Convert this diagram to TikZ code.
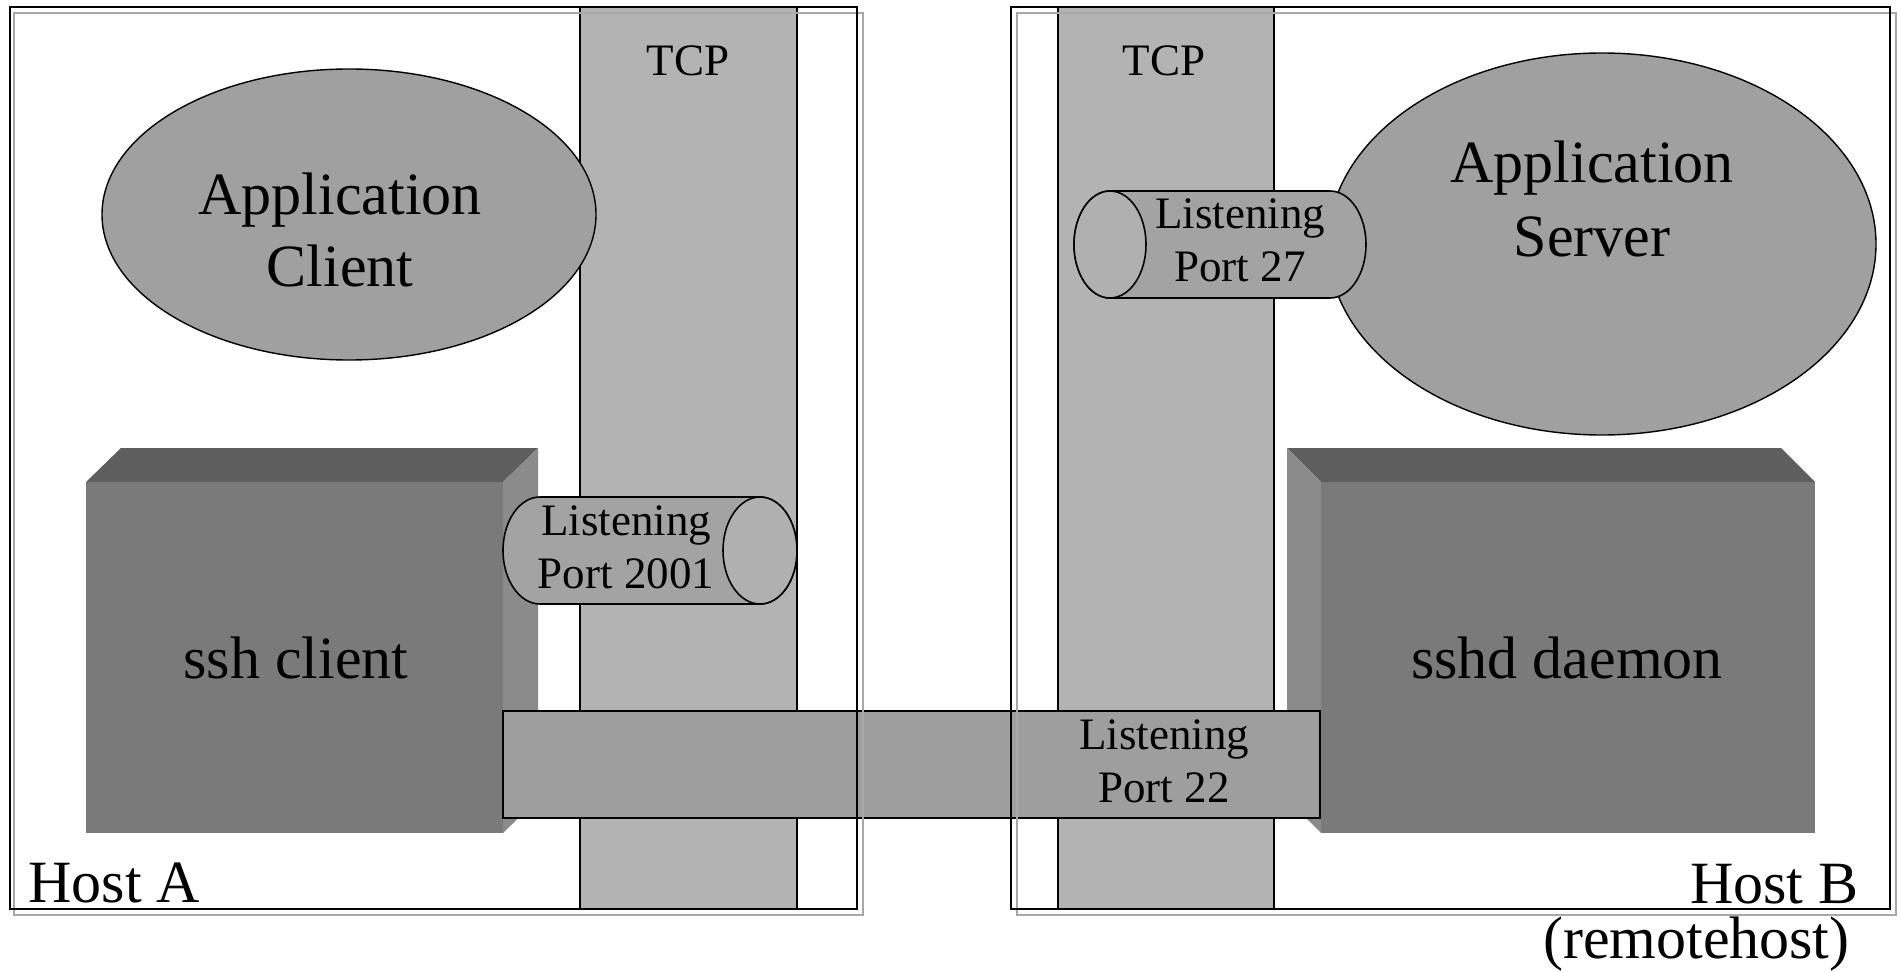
\documentclass[tikz,border=0pt]{standalone}
\usepackage{fontspec}
\setmainfont{Liberation Serif}
\usepackage{tikz}
\definecolor{tcpGray}   {HTML}{B3B3B3}
\definecolor{appGray}   {HTML}{A0A0A0}
\definecolor{portGray}  {HTML}{A3A3A3}
\definecolor{faceGray}  {HTML}{B0B0B0}
\definecolor{barGray}   {HTML}{9E9E9E}
\definecolor{boxFront}  {HTML}{7A7A7A}
\definecolor{boxTop}    {HTML}{5E5E5E}
\definecolor{boxSide}   {HTML}{8B8B8B}
\definecolor{shadowGray}{HTML}{A8A8A8}
\begin{document}
\begin{tikzpicture}[x=0.5pt,y=0.5pt,
      strip/.style={draw=black,fill=tcpGray,line width=0.6pt},
      blob/.style={draw=black,fill=appGray,line width=0.7pt},
      port/.style={draw=black,fill=portGray,line width=0.8pt},
      face/.style={draw=black,fill=faceGray,line width=0.8pt},
      frameline/.style={draw=black,line width=1pt},
      frameshadow/.style={draw=shadowGray,line width=1pt},
      big/.style={font=\fontsize{30}{36}\selectfont,align=center,anchor=base,inner sep=0pt},
      small/.style={font=\fontsize{22.5}{26.5}\selectfont,align=center,anchor=base,inner sep=0pt}]
    \useasboundingbox (0,0) rectangle (1900,971);
    % TCP layers
    \draw[strip] (580,62) rectangle (797,964);
    \draw[strip] (1058,62) rectangle (1274,964);
    \node[small] (tcpA) at (688,895) {TCP};
    \node[small] (tcpB) at (1164,895) {TCP};
    % applications
    \draw[blob] (349,756.5) ellipse [x radius=247,y radius=145.5];
    \draw[blob] (1602,727) ellipse [x radius=274,y radius=191];
    \node[big] (appc) at (340,684) {Application\\Client};
    \node[big,font=\fontsize{30}{37}\selectfont] (apps) at (1592,714) {Application\\Server};
    % ssh boxes
    \fill[boxFront] (86,138) rectangle (503,489);
    \fill[boxTop] (86,489) -- (503,489) -- (538,523) -- (121,523) -- cycle;
    \fill[boxSide] (503,489) -- (538,523) -- (538,172) -- (503,138) -- cycle;
    \fill[boxFront] (1321,138) rectangle (1815,489);
    \fill[boxTop] (1287,523) -- (1781,523) -- (1815,489) -- (1321,489) -- cycle;
    \fill[boxSide] (1287,523) -- (1321,489) -- (1321,138) -- (1287,172) -- cycle;
    \node[big] (sshc) at (296,293) {ssh client};
    \node[big] (sshd) at (1567,293) {sshd daemon};
    % listening ports
    \draw[port] (540,474) -- (760,474) arc[start angle=90,end angle=-90,x radius=37,y radius=53.5]
      -- (540,367) arc[start angle=270,end angle=90,x radius=37,y radius=53.5] -- cycle;
    \draw[face] (760,420.5) ellipse [x radius=37,y radius=53.5];
    \node[small] (p2001) at (626,383) {Listening\\Port 2001};
    \draw[port] (1110,780) -- (1330,780) arc[start angle=90,end angle=-90,x radius=36,y radius=53.5]
      -- (1110,673) arc[start angle=270,end angle=90,x radius=36,y radius=53.5] -- cycle;
    \draw[face] (1110,726.5) ellipse [x radius=36,y radius=53.5];
    \node[small] (p27) at (1240,689) {Listening\\Port 27};
    \draw[draw=black,fill=barGray,line width=0.8pt] (503,153) rectangle (1320,260);
    \node[small] (p22) at (1164,169) {Listening\\Port 22};
    % hosts
    \draw[frameshadow] (14,56) rectangle (863,958);
    \draw[frameline] (10,62) rectangle (857,964);
    \draw[frameshadow] (1017,56) rectangle (1896,958);
    \draw[frameline] (1011,62) rectangle (1890,964);
    \node[big,anchor=base west] (hostA) at (28,69) {Host A};
    \node[big,anchor=base east] (hostB) at (1859,68) {Host B};
    \node[big,anchor=base east] (remote) at (1850,13) {(remotehost)};
  \end{tikzpicture}
\end{document}
